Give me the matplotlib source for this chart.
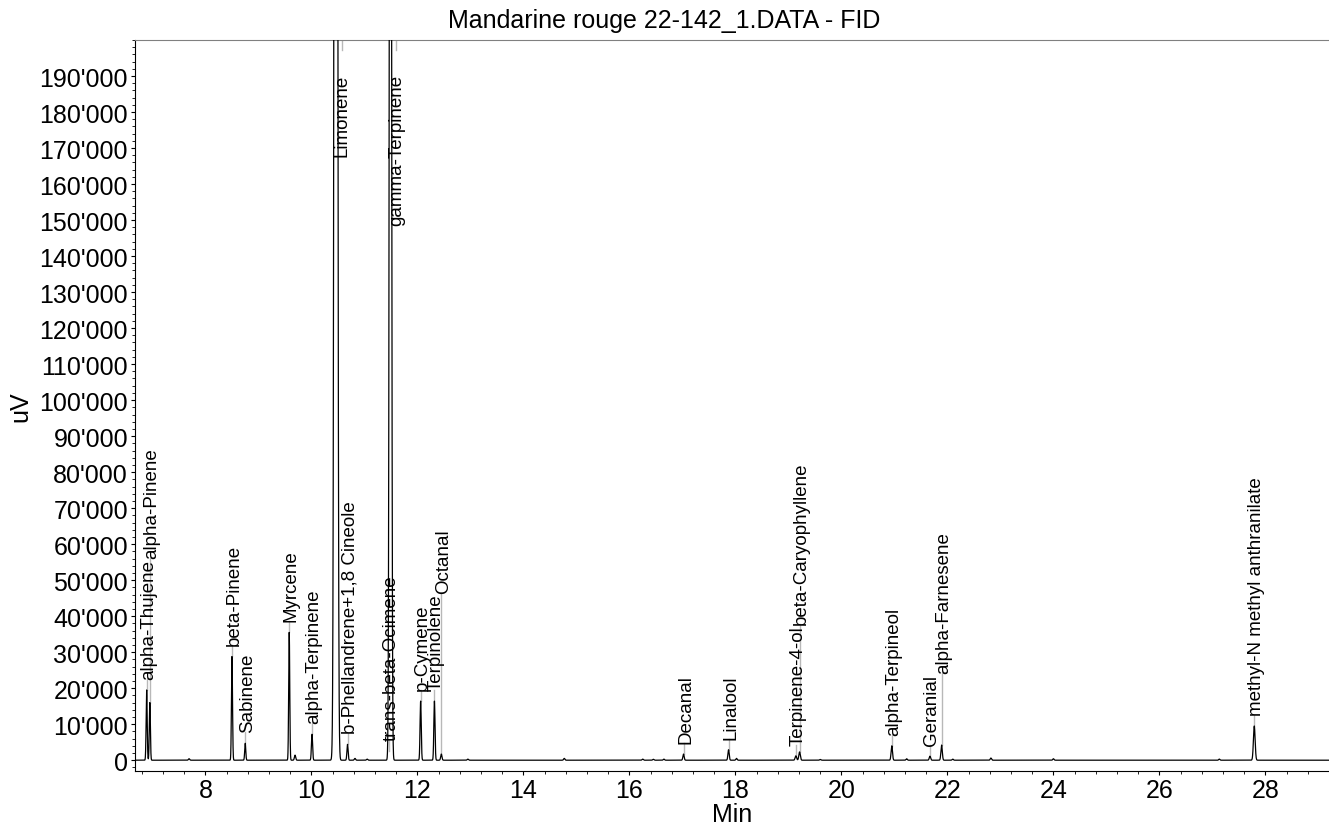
import numpy as np
import matplotlib
matplotlib.use('Agg')
import matplotlib.pyplot as plt
from matplotlib.ticker import MultipleLocator, FixedLocator, FuncFormatter

plt.rcParams['font.family'] = ['Liberation Sans', 'DejaVu Sans']

# Labelled peaks: name, retention time (min), apex height (uV), peak width (min)
peak_names = ['alpha-Thujene', 'alpha-Pinene', 'beta-Pinene', 'Sabinene',
              'Myrcene', 'alpha-Terpinene', 'Limonene',
              'b-Phellandrene+1,8 Cineole', 'trans-beta-Ocimene',
              'gamma-Terpinene', 'p-Cymene', 'Terpinolene', 'Octanal',
              'Decanal', 'Linalool', 'Terpinene-4-ol', 'beta-Caryophyllene',
              'alpha-Terpineol', 'Geranial', 'alpha-Farnesene',
              'methyl-N methyl anthranilate']
peak_rt = [6.89, 6.95, 8.50, 8.75, 9.58, 10.01, 10.46, 10.68, 11.46,
           11.49, 12.06, 12.32, 12.45, 17.02, 17.87, 19.14, 19.21,
           20.95, 21.67, 21.89, 27.79]
peak_height = [19500, 16000, 28800, 4700, 35500, 7200, 1000000, 4400, 2500,
               500000, 16400, 16400, 1700, 1700, 2900, 1200, 2300,
               4000, 1100, 4200, 9500]
peak_width = [0.010, 0.010, 0.010, 0.010, 0.010, 0.011, 0.022, 0.011, 0.012,
              0.017, 0.011, 0.011, 0.012, 0.012, 0.012, 0.014, 0.014,
              0.013, 0.013, 0.013, 0.016]

# Small unlabelled peaks
minor_rt = [7.69, 9.69, 10.82, 11.05, 12.95, 14.77, 16.25, 16.45, 16.65,
            18.02, 19.60, 21.23, 22.10, 22.82, 24.00, 27.13]
minor_height = [400, 1400, 500, 300, 300, 500, 300, 250, 300,
                500, 200, 400, 300, 600, 400, 300]

title = "Mandarine rouge 22-142_1.DATA - FID"
x_range = (6.67, 29.2)
y_range = (-3000, 200000)


def trace(t):
    """Sum of gaussian peaks for the chromatogram signal."""
    sig = np.zeros_like(t)
    for rt, h, w in zip(peak_rt, peak_height, peak_width):
        sig += h * np.exp(-0.5 * ((t - rt) / w) ** 2)
    for rt, h in zip(minor_rt, minor_height):
        sig += h * np.exp(-0.5 * ((t - rt) / 0.012) ** 2)
    return sig


fig = plt.figure(figsize=(13.29, 8.28), dpi=100)
ax = fig.add_axes([135 / 1329, 1 - 772 / 828, 1 - 135 / 1329, (772 - 41) / 828])

t = np.linspace(x_range[0], x_range[1], 30000)
ax.plot(t, trace(t), color='black', lw=0.9, zorder=3)

ax.set_xlim(x_range)
ax.set_ylim(y_range)

# Axis styling
ax.spines['right'].set_visible(False)
ax.spines['top'].set_color('#808080')
ax.spines['left'].set_color('black')
ax.spines['bottom'].set_color('black')

ax.xaxis.set_major_locator(FixedLocator(np.arange(8, 29, 2)))
ax.xaxis.set_minor_locator(MultipleLocator(0.4))
ax.yaxis.set_major_locator(FixedLocator(np.arange(0, 190001, 10000)))
ax.yaxis.set_minor_locator(MultipleLocator(2000))
ax.yaxis.set_major_formatter(
    FuncFormatter(lambda v, p: f"{int(v):,}".replace(",", "'")))
ax.tick_params(axis='both', which='major', direction='out', length=3,
               width=0.8, labelsize=18, pad=2)
ax.tick_params(axis='both', which='minor', direction='out', length=2,
               width=0.6)
ax.tick_params(axis='x', which='both', top=False)

ax.set_xlabel('Min', fontsize=18, labelpad=0)
ax.set_ylabel('uV', fontsize=18, labelpad=5)
fig.text(0.5, 1 - 21 / 828, title, ha='center', va='center', fontsize=18)

# Peak labels, stacked upwards when they collide
fig.canvas.draw()
renderer = fig.canvas.get_renderer()
top_px = ax.transAxes.transform((0, 1))[1]
inv = ax.transData.inverted()
placed = []
order = np.argsort(peak_rt)
for i in order:
    name, rt, h = peak_names[i], peak_rt[i], peak_height[i]
    x_px, apex_px = ax.transData.transform((rt, min(h, y_range[1])))
    txt = ax.text(rt, 0, name, rotation=90, ha='center', va='bottom',
                  fontsize=13.5, zorder=4)
    length = txt.get_window_extent(renderer).height
    if h > y_range[1]:
        xc = x_px + 6
        y1 = top_px - 34
        y0 = y1 - length
    else:
        xc = x_px + 2
        y0 = apex_px + 11
        moved = True
        while moved:
            moved = False
            for px, p0, p1 in placed:
                if abs(xc - px) < 12.5 and y0 < p1 and y0 + length > p0:
                    y0 = p1 + 1
                    moved = True
        y1 = y0 + length
    placed.append((xc, y0, y1))
    xd, yd = inv.transform((xc, y0))
    txt.set_position((xd, yd))
    if h > y_range[1]:
        _, ys = inv.transform((xc, top_px - 10))
        ax.plot([xd, xd], [ys, y_range[1]], color='#b8b8b8', lw=1, zorder=2)
    else:
        ax.plot([rt, rt], [h, yd], color='#b8b8b8', lw=1, zorder=2)

fig.savefig('out.png', dpi=100)
